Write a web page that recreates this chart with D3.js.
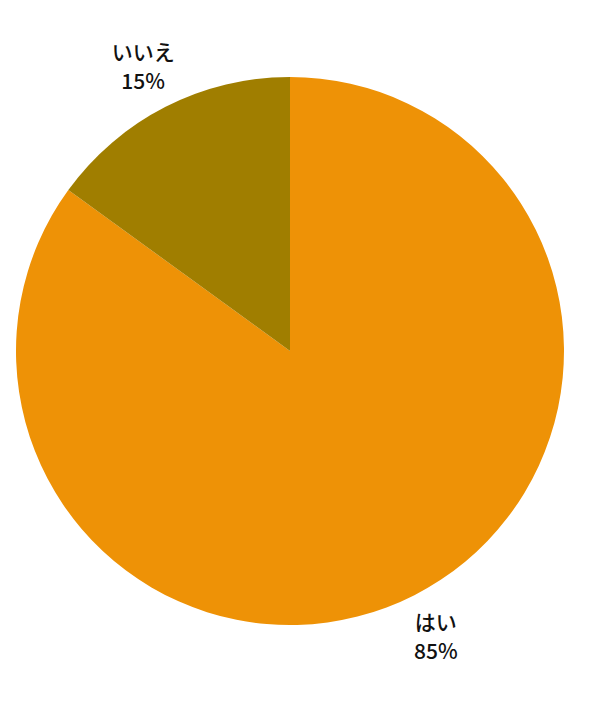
<!DOCTYPE html>
<html>
<head>
<meta charset="utf-8">
<script src="https://d3js.org/d3.v7.min.js"></script>
<style>
  body { margin: 0; background: #fff; }
  text { font-family: "Noto Sans CJK JP", "Noto Sans", sans-serif; font-weight: 500; fill: #111; }
</style>
</head>
<body>
<svg width="602" height="702"></svg>
<script>
var labels = ["はい", "いいえ"];
var values = [85, 15];
var colors = ["#EE9206", "#A07E00"];

var svg = d3.select("svg"),
    cx = 290, cy = 351, r = 274;

var pie = d3.pie().sort(null).value(function(d) { return d; });
var arc = d3.arc().innerRadius(0).outerRadius(r);
var arcs = pie(values);

var g = svg.append("g").attr("transform", "translate(" + cx + "," + cy + ")");

g.selectAll("path")
  .data(arcs)
  .enter().append("path")
  .attr("d", arc)
  .attr("fill", function(d, i) { return colors[i]; });

// label positions outside the pie
var labelArc = d3.arc().innerRadius(r * 1.14).outerRadius(r * 1.14);
var offsets = [[4, 1], [-5, -13]];

arcs.forEach(function(d, i) {
  var p = labelArc.centroid(d);
  var x = p[0] + offsets[i][0], y = p[1] + offsets[i][1];
  g.append("text")
    .attr("text-anchor", "middle")
    .attr("x", x).attr("y", y)
    .style("font-size", "21px")
    .text(labels[i]);
  g.append("text")
    .attr("text-anchor", "middle")
    .attr("x", x).attr("y", y + 29)
    .style("font-size", "21px")
    .text(values[i] + "%");
});
</script>
</body>
</html>
